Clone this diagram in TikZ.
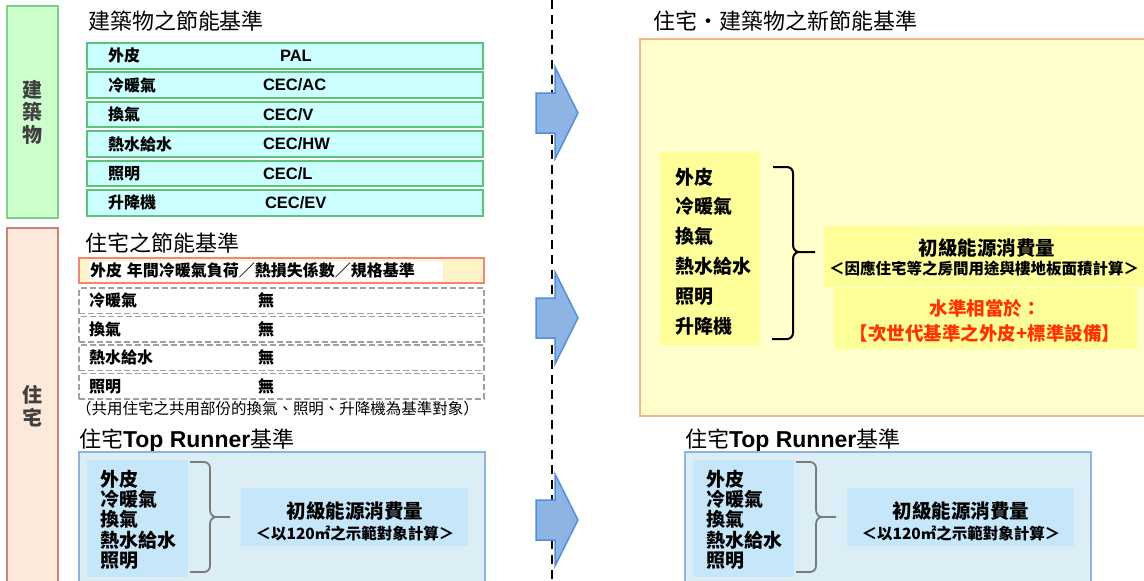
\documentclass[tikz,border=0pt]{standalone}
\usepackage{fontspec}
\setmainfont{Noto Sans CJK TC}
\newfontfamily\arialf{Liberation Sans}
\newcommand\myfs[1]{\fontsize{#1}{#1}\selectfont}
\definecolor{gfill}{HTML}{CCFFCC}
\definecolor{gline}{HTML}{7FD08F}
\definecolor{pfill}{HTML}{FDE9D9}
\definecolor{pline}{HTML}{C8847E}
\definecolor{rowfill}{HTML}{CCFFFF}
\definecolor{rowline}{HTML}{5CC47A}
\definecolor{envfill}{HTML}{FFF3C8}
\definecolor{envline}{HTML}{F2847A}
\definecolor{dashgray}{HTML}{A0A0A0}
\definecolor{bfill}{HTML}{DCEEF5}
\definecolor{bline}{HTML}{8DB3E2}
\definecolor{bfill2}{HTML}{C6E7FA}
\definecolor{yfill}{HTML}{FFFFCC}
\definecolor{oline}{HTML}{F6B58A}
\definecolor{yfill3}{HTML}{FFFF99}
\definecolor{redtxt}{HTML}{FF3300}
\definecolor{arrfill}{HTML}{8DB4E2}
\definecolor{arrline}{HTML}{4F8FDC}
\definecolor{brgray}{HTML}{7A7A7A}
\tikzset{
  every node/.style={inner sep=0pt, outer sep=0pt},
  ttl/.style={font={\myfs{22}}},
  sidebox/.style={line width=2, anchor=north west, minimum width=51},
  sidetxt/.style={align=center, text=black!75, font={\fontsize{20}{22.5}\selectfont\bfseries}},
  rowbox/.style={draw=rowline, fill=rowfill, line width=2, minimum width=396, minimum height=25.5},
  rowlbl/.style={font={\myfs{16}\bfseries}},
  rowval/.style={font={\arialf\bfseries\myfs{16.5}}},
  dbox/.style={draw=dashgray, line width=1.5, dash pattern=on 6pt off 3pt, minimum width=405, minimum height=25.5},
  titem/.style={font={\myfs{19}\bfseries}},
  ritem/.style={font={\myfs{19}\bfseries}},
  pefont/.style={font={\myfs{19.5}\bfseries}},
  subfont/.style={font={\myfs{15.5}\bfseries}},
  redfont/.style={text=redtxt, font={\myfs{18.5}\bfseries}},
  brace/.style={line width=2, black},
  gbrace/.style={line width=1.8, brgray},
  dline/.style={line width=2.5, black, dash pattern=on 9pt off 6pt},
  arrowst/.style={fill=arrfill, draw=arrline, line width=1.5, line join=miter}
}
\newcommand\brow[5]{%
  \node[rowbox, anchor=north west] (#1) at (87,#2) {};
  \node[rowlbl, anchor=west] (#1l) at ([xshift=21]#1.west) {#3};
  \node[rowval, anchor=west] (#1v) at ([xshift=#5]#1.west) {#4};}
\newcommand\drow[3]{%
  \node[dbox, anchor=north west] (#1) at (79,#2) {};
  \node[rowlbl, anchor=west] (#1l) at ([xshift=10]#1.west) {#3};
  \node[rowlbl, anchor=west] (#1v) at ([xshift=179]#1.west) {無};}
\newcommand\blockarrow[2]{%
  \coordinate (#1) at (578,#2);
  \draw[arrowst] (536,{#2-20}) -- (555,{#2-20}) -- (555,{#2-46}) -- (#1) -- (555,{#2+46}) -- (555,{#2+20}) -- (536,{#2+20}) -- cycle;}
\newcommand\trblock[2]{%
  \begin{scope}[xshift=#2]
  \node[ttl, anchor=west] (#1t) at (79,441) {住宅{\arialf\bfseries\myfs{23}Top Runner}基準};
  \node[draw=bline, fill=bfill, line width=1.5, anchor=north west, minimum width=406, minimum height=140] (#1o) at (79,452) {};
  \node[fill=bfill2, anchor=north west, minimum width=101, minimum height=117] (#1l) at (87,460) {};
  \foreach \t [count=\i] in {外皮,冷暖氣,換氣,熱水給水,照明}
    \node[titem, anchor=west] (#1i\i) at (100,{458.7+20.3*\i}) {\t};
  \draw[gbrace] (190,462) -- (204,462) to[out=0,in=90] (210,468) -- (210,510)
     to[out=-90,in=180] (216,517) -- (230,517);
  \draw[gbrace] (216,517) to[out=180,in=90] (210,524) -- (210,566)
     to[out=-90,in=0] (204,572) -- (190,572);
  \node[fill=bfill2, anchor=north west, minimum width=227, minimum height=58] (#1r) at (241,488) {};
  \node[pefont] (#1r1) at (355,511) {初級能源消費量};
  \node[subfont] (#1r2) at (355,533) {＜以120㎡之示範對象計算＞};
  \end{scope}}
\begin{document}
\begin{tikzpicture}[x=1pt,y=-1pt]
\useasboundingbox (0,0) rectangle (1144,581);
\fill[white] (0,0) rectangle (1144,581);

% side labels
\node[sidebox, fill=gfill, draw=gline, minimum height=212] (bld) at (7,6) {};
\node[sidetxt] (bldt) at (33,112) {建\\築\\物};
\node[sidebox, fill=pfill, draw=pline, minimum height=372] (res) at (7,228) {};
\node[sidetxt] (rest) at (33,406) {住\\宅};

% building standards
\node[ttl, anchor=west] (t1) at (88,21) {建築物之節能基準};
\brow{b1}{43}{外皮}{PAL}{193}
\brow{b2}{72.4}{冷暖氣}{CEC/AC}{176}
\brow{b3}{101.8}{換氣}{CEC/V}{176}
\brow{b4}{131.2}{熱水給水}{CEC/HW}{176}
\brow{b5}{160.6}{照明}{CEC/L}{176}
\brow{b6}{190}{升降機}{CEC/EV}{178}

% residential standards
\node[ttl, anchor=west] (t2) at (85,243) {住宅之節能基準};
\node[draw=envline, fill=envfill, line width=1.5, anchor=north west, minimum width=405, minimum height=25] (env) at (79,258) {};
\node[fill=white, anchor=west, text width=354, minimum height=20, align=left, font={\myfs{16}\bfseries}] (envt) at ([xshift=10]env.west) {\hspace{1pt}外皮\hspace{5pt}年間冷暖氣負荷／熱損失係數／規格基準};
\drow{d1}{288}{冷暖氣}
\drow{d2}{316.5}{換氣}
\drow{d3}{345}{熱水給水}
\drow{d4}{373.5}{照明}
\node[anchor=west, font={\myfs{15.5}}] (note) at (76,409) {（共用住宅之共用部份的換氣、照明、升降機為基準對象）};

% Top Runner blocks
\trblock{L}{0}
\trblock{R}{606}

% center dashed line
\coordinate (dtop) at (552,0);
\coordinate (dbot) at (552,581);
\draw[dline] (dtop) -- (dbot);

% arrows
\blockarrow{a1}{113}
\blockarrow{a2}{318}
\blockarrow{a3}{520}

% new standard
\node[ttl, anchor=west] (t4) at (653,21) {住宅・建築物之新節能基準};
\node[draw=oline, fill=yfill, line width=2, anchor=north west, minimum width=520, minimum height=377] (newb) at (640,39) {};
\node[fill=yfill3, anchor=north west, minimum width=100, minimum height=193] (newl) at (660,152) {};
\foreach \t [count=\i] in {外皮,冷暖氣,換氣,熱水給水,照明,升降機}
  \node[ritem, anchor=west] (ni\i) at (675,{147.2+29.8*\i}) {\t};
\draw[brace] (773,167) -- (787,167) to[out=0,in=90] (793,173) -- (793,245)
   to[out=-90,in=180] (799,252) -- (815,252);
\draw[brace] (799,252) to[out=180,in=90] (793,259) -- (793,333)
   to[out=-90,in=0] (787,339) -- (772,339);
\node[fill=yfill3, anchor=north west, minimum width=330, minimum height=61] (pe) at (824,226) {};
\node[pefont] (pe1) at (987,248) {初級能源消費量};
\node[subfont] (pe2) at (984,269) {＜因應住宅等之房間用途與樓地板面積計算＞};
\node[fill=yfill3, anchor=north west, minimum width=303, minimum height=61] (lv) at (834,288) {};
\node[redfont] (lv1) at (985,308) {水準相當於：};
\node[redfont] (lv2) at (985,333) {【次世代基準之外皮+標準設備】};
\end{tikzpicture}
\end{document}
